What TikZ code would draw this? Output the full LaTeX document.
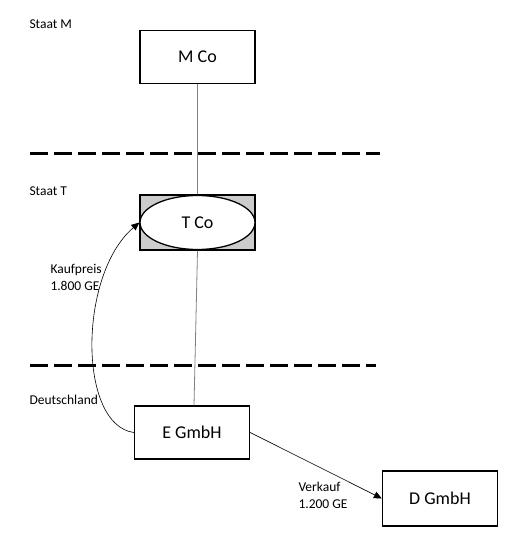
\documentclass[tikz,border=0pt]{standalone}
\usepackage{fontspec}
\setmainfont{Carlito}
\usetikzlibrary{arrows.meta, calc, shapes.geometric, positioning}

\begin{document}
\begin{tikzpicture}[x=1pt, y=-1pt, line width=1pt,
        firm/.style={draw, line width=1.3pt, minimum width=115pt, minimum height=53pt, font=\fontsize{18}{21}\selectfont},
        land/.style={font=\fontsize{13.5}{16}\selectfont, anchor=west, inner sep=0pt},
        amount/.style={font=\fontsize{13.5}{17}\selectfont, align=left, anchor=north west, inner sep=0pt},
        border/.style={line width=3pt, dash pattern=on 18pt off 6pt},
        link/.style={draw=gray, line width=0.8pt}]
        \useasboundingbox (0,0) rectangle (530,537);
        % countries
        \node[land] (staatm) at (29,24) {Staat M};
        \node[land] (staatt) at (29,191) {Staat T};
        \node[land] (de) at (29,400) {Deutschland};
        \draw[border] (30,154) -- (380,154);
        \draw[border] (30,365) -- (376,365);
        % companies
        \node[firm] (mco) at (197.5,57) {M Co};
        \node[firm, fill=gray!40, minimum height=55pt] (tbox) at (197.5,222.5) {};
        \node[draw, ellipse, fill=white, line width=1.3pt, minimum width=115pt, minimum height=54pt,
              font=\fontsize{18}{21}\selectfont] (tco) at (197.5,222.5) {T Co};
        \node[firm] (egmbh) at (192,432.5) {E GmbH};
        \node[firm, minimum height=55pt] (dgmbh) at (440,498.5) {D GmbH};
        % links
        \draw[link] (mco.south) -- (tbox.north);
        \draw[link] (tbox.south) -- ($(egmbh.north)+(2,0)$);
        % flows
        \draw[-{Triangle[length=8pt, width=7pt]}, line width=0.6pt] (egmbh.west) .. controls (78,425) and (78,275) .. (tco.west);
        \node[amount] (kauf) at (50,264) {Kaufpreis\\1.800 GE};
        \draw[-{Triangle[length=8pt, width=7pt]}, line width=0.6pt] (egmbh.east) -- (dgmbh.west);
        \node[amount] (verk) at (298,482) {Verkauf\\1.200 GE};
    \end{tikzpicture}
\end{document}
